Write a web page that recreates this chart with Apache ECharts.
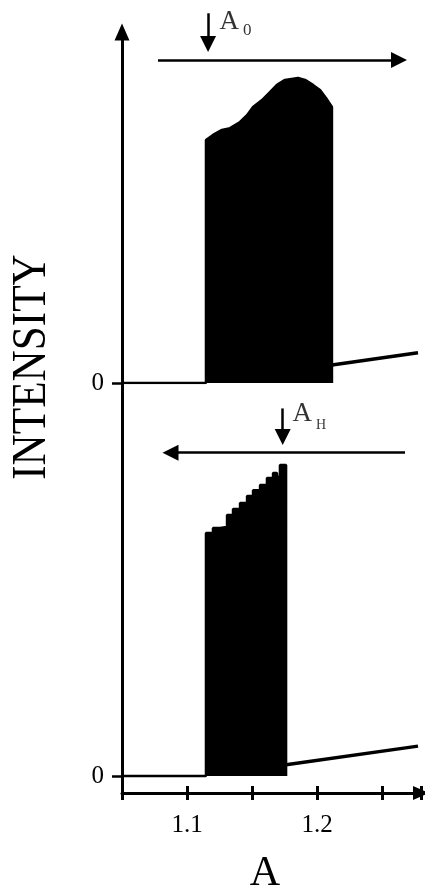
<!DOCTYPE html>
<html>
<head>
<meta charset="utf-8">
<script src="https://cdn.jsdelivr.net/npm/echarts@6/dist/echarts.min.js"></script>
<style>html,body{margin:0;padding:0;background:#fff}#c{width:425px;height:886px}</style>
</head>
<body>
<div id="c"></div>
<script>
// ---- data (A, intensity) ----
const xTicks = ['1.1', '1.2'];
// upper panel (A increasing): oscillation band envelope
const upBase = [[1.05, 0], [1.1146, 0]];
const upEnvelope = [[1.1146, 6.75], [1.1200, 6.89], [1.1269, 7.03], [1.1331, 7.08], [1.1408, 7.25], [1.1462, 7.44], [1.1508, 7.67], [1.1577, 7.86], [1.1638, 8.08], [1.1692, 8.28], [1.1754, 8.42], [1.1854, 8.47], [1.1908, 8.42], [1.1969, 8.28], [1.2023, 8.14], [1.2069, 7.92], [1.2115, 7.67]];
const upEnd = [[1.2115, 0]];
const upStable = [[1.2115, 0.50], [1.2777, 0.84]];
// lower panel (A decreasing)
const loBase = [[1.05, 0], [1.1146, 0]];
const loEnvelope = [[1.1146, 6.75], [1.1200, 6.89], [1.1254, 6.92], [1.1308, 7.25], [1.1354, 7.42], [1.1408, 7.58], [1.1462, 7.78], [1.1508, 7.94], [1.1562, 8.08], [1.1615, 8.28], [1.1662, 8.42], [1.1692, 8.31], [1.1715, 8.64], [1.1762, 8.64]];
const loEnd = [[1.1762, 0]];
const loStable = [[1.1762, 0.31], [1.2777, 0.83]];
// annotation arrows
const upDirArrow = [[1.0777, 8.97], [1.2631, 8.97]];
const a0Arrow = [[1.1162, 10.27], [1.1162, 9.42]];
const loDirArrow = [[1.2677, 8.98], [1.0873, 8.98]];
const aHArrow = [[1.1736, 10.21], [1.1736, 9.42]];
const a0Label = [1.1246, 9.98];
const aHLabel = [1.1808, 9.95];

const serif = '"Liberation Serif", "DejaVu Serif", serif';
const chart = echarts.init(document.getElementById('c'), null, {renderer: 'canvas'});

const xCommon = {type: 'value', min: 1.05, max: 1.28, interval: 0.05};
const arrowSeries = (coords, grid) => ({
  type: 'lines', coordinateSystem: 'cartesian2d', xAxisIndex: grid === 0 ? 0 : 1, yAxisIndex: grid,
  clip: false, symbol: ['none', 'triangle'], symbolSize: 16, silent: true,
  lineStyle: {color: '#000', width: 2.5, opacity: 1, curveness: 0},
  data: [{coords: coords}]
});
const labelSeries = (pt, grid, sub, subSize, pad) => ({
  type: 'scatter', xAxisIndex: grid === 0 ? 0 : 1, yAxisIndex: grid, clip: false, silent: true,
  symbolSize: 1, itemStyle: {color: 'transparent'},
  label: {show: true, position: 'right', distance: 0,
    formatter: '{a|A}{s|' + sub + '}',
    rich: {
      a: {fontFamily: serif, fontSize: 27, lineHeight: 30, color: '#000', verticalAlign: 'bottom', padding: [0, 0, pad, 0]},
      s: {fontFamily: serif, fontSize: subSize, lineHeight: 12, color: '#000', verticalAlign: 'bottom', padding: [0, 0, 0, 4]}
    }},
  data: [pt]
});

chart.setOption({
  animation: false,
  backgroundColor: '#fff',
  grid: [
    {left: 122, right: 4, top: 32, height: 351, outerBoundsMode: 'none', containLabel: false},
    {left: 122, right: 4, top: 383, height: 410, outerBoundsMode: 'none', containLabel: false}
  ],
  xAxis: [
    Object.assign({}, xCommon, {gridIndex: 0, show: false}),
    Object.assign({}, xCommon, {gridIndex: 1, position: 'bottom',
      axisLine: {onZero: false, lineStyle: {color: '#000', width: 3}, symbol: ['none', 'triangle'], symbolSize: [14, 16]},
      axisTick: {show: true, inside: false, length: 7, lineStyle: {color: '#000', width: 3}},
      axisLabel: {margin: 20, color: '#000', fontFamily: serif, fontSize: 25,
        formatter: v => Math.abs(v - 1.1) < 1e-6 ? xTicks[0] : (Math.abs(v - 1.2) < 1e-6 ? xTicks[1] : '')},
      splitLine: {show: false},
      name: 'A', nameLocation: 'middle', nameGap: 60,
      nameTextStyle: {fontFamily: serif, fontSize: 42, color: '#000', padding: [0, 13, 0, 0]}
    }),
    Object.assign({}, xCommon, {gridIndex: 1, position: 'bottom',
      axisLine: {show: false, onZero: false},
      axisTick: {show: true, inside: true, length: 7, lineStyle: {color: '#000', width: 3}},
      axisLabel: {show: false}, splitLine: {show: false}
    })
  ],
  yAxis: [
    {type: 'value', gridIndex: 0, min: 0, max: 9.75,
      axisLine: {show: true, lineStyle: {color: '#000', width: 3}, symbol: ['none', 'triangle'], symbolSize: [15, 17]},
      axisTick: {show: true, customValues: [0], length: 10, lineStyle: {color: '#000', width: 2.5}},
      axisLabel: {customValues: [0], margin: 18, color: '#000', fontFamily: serif, fontSize: 25},
      splitLine: {show: false}},
    {type: 'value', gridIndex: 1, min: -17 / 36, max: 393 / 36,
      axisLine: {show: true, lineStyle: {color: '#000', width: 3}},
      axisTick: {show: true, customValues: [0], length: 10, lineStyle: {color: '#000', width: 2.5}},
      axisLabel: {customValues: [0], margin: 18, color: '#000', fontFamily: serif, fontSize: 25},
      splitLine: {show: false}}
  ],
  graphic: [{
    type: 'text', x: 32, y: 367, rotation: Math.PI / 2, scaleX: 0.9,
    style: {text: 'INTENSITY', font: '48px ' + serif, fill: '#000', align: 'center', verticalAlign: 'middle'}
  }],
  series: [
    {type: 'line', xAxisIndex: 0, yAxisIndex: 0, symbol: 'none', silent: true,
      data: upBase.concat(upEnvelope, upEnd),
      lineStyle: {color: '#000', width: 2.5}, areaStyle: {color: '#000', opacity: 1}},
    {type: 'line', xAxisIndex: 0, yAxisIndex: 0, symbol: 'none', silent: true, clip: false,
      data: upStable, lineStyle: {color: '#000', width: 3.5}},
    {type: 'line', xAxisIndex: 1, yAxisIndex: 1, symbol: 'none', silent: true, step: 'end',
      data: loBase.concat(loEnvelope, loEnd),
      lineStyle: {color: '#000', width: 2.5}, areaStyle: {color: '#000', opacity: 1}},
    {type: 'line', xAxisIndex: 1, yAxisIndex: 1, symbol: 'none', silent: true, clip: false,
      data: loStable, lineStyle: {color: '#000', width: 3.5}},
    arrowSeries(upDirArrow, 0),
    arrowSeries(a0Arrow, 0),
    arrowSeries(loDirArrow, 1),
    arrowSeries(aHArrow, 1),
    labelSeries(a0Label, 0, '0', 17, 3),
    labelSeries(aHLabel, 1, 'H', 14, 5)
  ]
});
</script>
</body>
</html>
